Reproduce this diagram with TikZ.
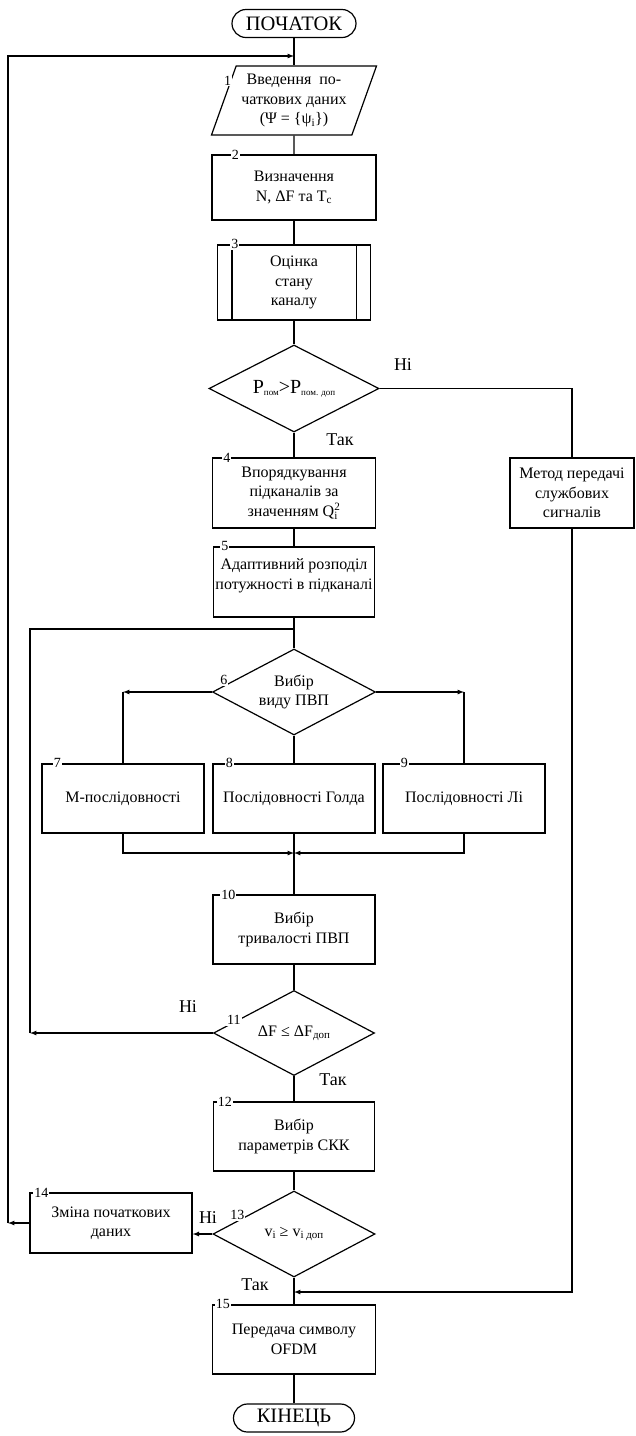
\documentclass[tikz,border=0pt]{standalone}
\usepackage{fontspec}
\setmainfont{Liberation Serif}
\usetikzlibrary{arrows,positioning,shapes.geometric}
\newcommand{\bodyfont}{\fontsize{16}{19.5}\selectfont}
\newcommand{\lowidx}[1]{\raisebox{-2pt}{\fontsize{9}{9}\selectfont #1}}
\tikzset{%
	startstop/.style= {draw, rectangle, rounded corners=14pt, minimum width=124pt, minimum height=28pt, inner sep=0pt, text centered, font=\fontsize{20.5}{20.5}\selectfont},
	inout/.style    = {draw, trapezium, trapezium left angle=65, trapezium right angle=115, trapezium stretches body=true, minimum width=165pt, minimum height=69pt, inner sep=0pt, text centered, align=center, font=\bodyfont},
	process/.style  = {draw, rectangle, minimum width=163pt, minimum height=69pt, inner sep=0pt, text centered, align=center, font=\bodyfont},
	decision/.style = {draw, diamond, aspect=2, minimum width=164pt, minimum height=86pt, inner sep=0pt, text centered, align=center, font=\bodyfont},
	arrow/.style    = {-latex},
	num/.style      = {fill=white, inner sep=1pt, font=\fontsize{14}{14}\selectfont},
	answer/.style   = {font=\fontsize{18}{18}\selectfont},
}
\begin{document}
\begin{tikzpicture}[x=1pt, y=-1pt, line width=1.2pt]
		\useasboundingbox (0,0) rectangle (635,1436);
		\node[startstop] (start) at (294,23.5) {ПОЧАТОК};
		\node[inout, below of=start, node distance=77pt] (input) {Введення\ \ по-\\чаткових даних\\(Ψ = \{ψ\textsubscript{i}\})};
		\node[process, below of=input, node distance=87pt, minimum width=164pt, minimum height=65pt] (define) {Визначення\\N, ΔF та T\textsubscript{c}};
		\node[process, below of=define, node distance=95pt, minimum width=153pt, minimum height=75pt] (chan) {Оцінка\\стану\\каналу};
		\node[decision, below of=chan, node distance=106pt, minimum width=170pt, minimum height=87pt] (power-test) {\fontsize{20}{20}\selectfont P\lowidx{пом}>P\lowidx{пом. доп}};
		\node[process, below of=power-test, node distance=104.5pt, minimum height=70pt] (order) {Впорядкування\\підканалів за\\значенням Q\rlap{\textsubscript{i}}\textsuperscript{2}};
		\node[process, right of=order, node distance=278pt, minimum width=124pt, minimum height=70pt] (service) {Метод передачі\\службових\\сигналів};
		\node[process, below of=order, node distance=89pt, minimum width=161pt, minimum height=70pt] (alloc) {Адаптивний розподіл\\потужності в підканалі\\[-4pt]\mbox{}};
		\node[decision, below of=alloc, node distance=110pt, minimum width=163pt] (kind) {Вибір\\виду ПВП};
		\node[process, below of=kind, node distance=106.5pt, minimum width=162pt] (gold) {Послідовності Голда};
		\node[process, left of=gold, node distance=171pt, minimum width=162pt] (mseq) {М-послідовності};
		\node[process, right of=gold, node distance=170pt, minimum width=162pt] (lee) {Послідовності Лі};
		\node[process, below of=gold, node distance=131pt, minimum width=162pt] (length) {Вибір\\тривалості ПВП};
		\node[decision, below of=length, node distance=103.5pt, minimum width=161pt, minimum height=85pt] (band) {ΔF ≤ ΔF\lowidx{\fontsize{11}{11}\selectfont доп}};
		\node[process, below of=band, node distance=103.5pt, minimum width=161pt] (skk) {Вибір\\параметрів СКК};
		\node[decision, below of=skk, node distance=97.5pt, minimum width=162pt] (speed) {v\lowidx{\fontsize{11}{11}\selectfont i} ≥ v\lowidx{\fontsize{11}{11}\selectfont i доп}};
		\node[process, left of=speed, node distance=183pt, yshift=11pt, minimum width=162pt, minimum height=60pt] (change) {Зміна початкових\\даних};
		\node[process, below of=speed, node distance=105.5pt] (send) {Передача символу\\OFDM};
		\node[startstop, below of=send, node distance=78.5pt, minimum width=121pt] (finish) {КІНЕЦЬ};

		% free ends of the loops
		\coordinate (back) at (294,56);
		\coordinate (outer) at (8,56);
		\coordinate (loop) at (294,629);
		\coordinate (inner) at (30,629);
		\coordinate (merge) at (294,853);
		\coordinate (bypass) at (294,1292);

		\draw (start) -- (input);
		\draw (input) -- (define);
		\draw (define) -- (chan);
		\draw (chan) -- (power-test);
		\draw (power-test) -- (order);
		\draw (order) -- (alloc);
		\draw (alloc) -- (kind);
		\draw (kind) -- (gold);
		\draw (gold) -- (length);
		\draw (length) -- (band);
		\draw (band) -- (skk);
		\draw (skk) -- (speed);
		\draw (speed) -- (send);
		\draw (send) -- (finish);
		\draw ([xshift=15pt]chan.north west) -- ([xshift=15pt]chan.south west);
		\draw ([xshift=-15pt]chan.north east) -- ([xshift=-15pt]chan.south east);

		\draw (power-test.east) -| (service.north);
		\draw[arrow] (service.south) |- (bypass);
		\draw[arrow] (kind.west) -- (kind.west -| mseq.north);
		\draw (kind.west -| mseq.north) -- (mseq.north);
		\draw[arrow] (kind.east) -- (kind.east -| lee.north);
		\draw (kind.east -| lee.north) -- (lee.north);
		\draw[arrow] (mseq.south) |- (merge);
		\draw[arrow] (lee.south) |- (merge);
		\draw[arrow] (band.west) -- (band.west -| inner);
		\draw (band.west -| inner) -- (inner) -- (loop);
		\draw[arrow] (speed.west) -- (speed.west -| change.east);
		\draw[arrow] (change.west) -- (change.west -| outer);
		\draw[arrow] (change.west -| outer) -- (outer) -- (back);

		\node[answer] (no1) at (403,365) {Ні};
		\node[answer] (yes1) at (340,440) {Так};
		\node[answer] (no2) at (188,1007) {Ні};
		\node[answer] (yes2) at (333,1080) {Так};
		\node[answer] (no3) at (208,1218) {Ні};
		\node[answer] (yes3) at (255,1285) {Так};

		\node[num] (n1) at ([xshift=-8pt,yshift=-15pt]input.top left corner) {1};
		\node[num] (n2) at ([xshift=24pt]define.north west) {2};
		\node[num] (n3) at ([xshift=18pt]chan.north west) {3};
		\node[num] (n4) at ([xshift=15pt]order.north west) {4};
		\node[num] (n5) at ([xshift=12pt]alloc.north west) {5};
		\node[num] (n6) at ([xshift=12pt,yshift=12pt]kind.west) {6};
		\node[num] (n7) at ([xshift=16pt]mseq.north west) {7};
		\node[num] (n8) at ([xshift=17pt]gold.north west) {8};
		\node[num] (n9) at ([xshift=22pt]lee.north west) {9};
		\node[num] (n10) at ([xshift=16pt]length.north west) {10};
		\node[num] (n11) at ([xshift=21pt,yshift=13pt]band.west) {11};
		\node[num] (n12) at ([xshift=12pt]skk.north west) {12};
		\node[num] (n13) at ([xshift=25pt,yshift=19pt]speed.west) {13};
		\node[num] (n14) at ([xshift=12pt]change.north west) {14};
		\node[num] (n15) at ([xshift=11pt]send.north west) {15};
\end{tikzpicture}
\end{document}
